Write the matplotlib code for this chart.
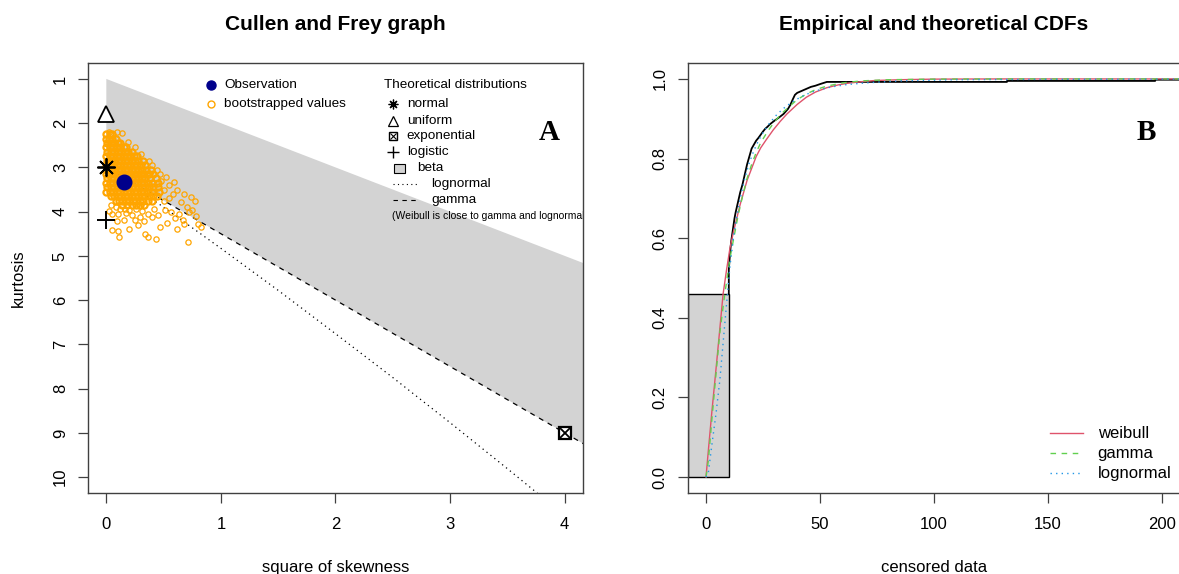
import matplotlib
matplotlib.use("Agg")
import matplotlib.pyplot as plt
from matplotlib.patches import Rectangle, Polygon

plt.rcParams['font.family'] = ['Liberation Sans', 'DejaVu Sans']

# ---------------- A : Cullen and Frey graph ----------------
obs_skew2 = 0.157
obs_kurt = 3.32

theo_skew2 = [0, 0, 4, 0]          # normal, uniform, exponential, logistic
theo_kurt = [3, 1.8, 9, 4.2]

beta_skew2 = [0, 5, 5, 0]
beta_kurt = [1, 6, 10.5, 3]
gamma_skew2 = [0, 5]
gamma_kurt = [3, 10.5]
lnorm_skew2 = [0, 0.5, 1, 1.5, 2, 2.5, 3, 3.5, 3.75, 4]
lnorm_kurt = [3, 3.90, 4.83, 5.78, 6.76, 7.75, 8.77, 9.81, 10.34, 10.87]

# bootstrapped values: dense core, one row per kurtosis level
boot_rows = [
    (2.25, [0.00, 0.03, 0.05]),
    (2.35, [0.00, 0.02, 0.05, 0.08]),
    (2.45, [0.01, 0.04, 0.07, 0.10, 0.12]),
    (2.55, [0.00, 0.03, 0.06, 0.09, 0.12, 0.15, 0.17]),
    (2.65, [0.01, 0.04, 0.07, 0.10, 0.13, 0.16, 0.19, 0.22]),
    (2.75, [0.00, 0.03, 0.06, 0.09, 0.12, 0.15, 0.18, 0.21, 0.24, 0.27]),
    (2.85, [0.01, 0.04, 0.07, 0.10, 0.13, 0.16, 0.19, 0.22, 0.25, 0.28, 0.32]),
    (2.95, [0.00, 0.03, 0.06, 0.09, 0.12, 0.15, 0.18, 0.21, 0.24, 0.27, 0.30, 0.34]),
    (3.05, [0.01, 0.04, 0.07, 0.10, 0.13, 0.16, 0.19, 0.22, 0.25, 0.28, 0.31, 0.35, 0.39]),
    (3.15, [0.00, 0.03, 0.06, 0.09, 0.12, 0.15, 0.18, 0.21, 0.24, 0.27, 0.30, 0.33, 0.37, 0.41]),
    (3.25, [0.01, 0.04, 0.07, 0.10, 0.13, 0.16, 0.19, 0.22, 0.25, 0.28, 0.31, 0.34, 0.38, 0.43]),
    (3.35, [0.00, 0.03, 0.06, 0.09, 0.12, 0.15, 0.18, 0.21, 0.24, 0.27, 0.30, 0.33, 0.36, 0.40, 0.45]),
    (3.45, [0.01, 0.04, 0.07, 0.10, 0.13, 0.16, 0.19, 0.22, 0.25, 0.28, 0.31, 0.34, 0.37, 0.41, 0.45]),
    (3.55, [0.00, 0.03, 0.06, 0.09, 0.12, 0.15, 0.18, 0.21, 0.24, 0.27, 0.30, 0.33, 0.36, 0.40, 0.46]),
    (3.65, [0.04, 0.07, 0.10, 0.13, 0.16, 0.19, 0.22, 0.25, 0.28, 0.31, 0.34, 0.37, 0.41, 0.44]),
    (3.75, [0.08, 0.11, 0.14, 0.17, 0.20, 0.23, 0.26, 0.29, 0.32, 0.36, 0.40]),
    (3.85, [0.14, 0.18, 0.22, 0.26, 0.29, 0.33]),
]
# scattered bootstrapped values around the core (skew^2, kurtosis)
boot_scatter = [
    (0.04, 3.86), (0.08, 3.90), (0.12, 3.93), (0.16, 3.95), (0.20, 3.97), (0.26, 3.93),
    (0.31, 3.99), (0.05, 4.05), (0.10, 4.06), (0.17, 4.02), (0.22, 4.08), (0.29, 4.12),
    (0.36, 4.05), (0.40, 4.12), (0.45, 4.08), (0.51, 3.97), (0.56, 4.01), (0.60, 4.15),
    (0.67, 4.20), (0.72, 4.00), (0.75, 3.97), (0.09, 4.21), (0.15, 4.19), (0.25, 4.20),
    (0.33, 4.22), (0.47, 4.35), (0.53, 4.25), (0.62, 4.40), (0.68, 4.28), (0.80, 4.28),
    (0.83, 4.35), (0.05, 4.42), (0.11, 4.57), (0.10, 4.44), (0.34, 4.50), (0.36, 4.58),
    (0.43, 4.62), (0.71, 4.69), (0.20, 4.40), (0.28, 4.30), (0.77, 3.75), (0.74, 3.68),
    (0.78, 4.10), (0.58, 3.60), (0.62, 3.50), (0.55, 3.40), (0.65, 3.78), (0.50, 3.50),
    (0.59, 3.33), (0.52, 3.22), (0.47, 3.15), (0.44, 3.05), (0.37, 2.85), (0.30, 2.70),
    (0.25, 2.55), (0.19, 2.42), (0.14, 2.23), (0.09, 2.20), (0.02, 2.20), (0.40, 2.95),
    (0.48, 3.30), (0.68, 3.60), (0.70, 3.90), (0.63, 4.05), (0.50, 3.75), (0.55, 3.70),
    (0.42, 3.95), (0.02, 3.98),
]

# ---------------- B : empirical and theoretical CDFs ----------------
cens_upper = 10       # left-censored interval (-inf, 10]
cens_prob = 0.46
ecdf_x = [10, 10, 10.5, 11, 11.5, 12, 12.5, 13, 14, 15, 16, 17, 18, 19, 20, 21, 22, 23,
          24, 25, 26, 27, 28, 30, 32, 34, 36, 37, 38, 39, 40, 42, 44, 46, 48, 50, 53,
          132, 132, 197, 197, 215]
ecdf_y = [0.46, 0.52, 0.56, 0.59, 0.61, 0.63, 0.65, 0.665, 0.69, 0.715, 0.735, 0.76,
          0.785, 0.805, 0.825, 0.835, 0.845, 0.852, 0.86, 0.868, 0.875, 0.88, 0.886,
          0.895, 0.903, 0.912, 0.925, 0.935, 0.948, 0.96, 0.965, 0.97, 0.975, 0.98,
          0.983, 0.987, 0.9925, 0.9925, 0.995, 0.995, 0.998, 0.998]
weib_x = [0, 1, 2.5, 4.7, 7.5, 9, 10.5, 12, 13.5, 15, 16.5, 18, 20, 22, 24, 26.5, 29.5,
          32.5, 35.5, 40, 44, 48, 53, 58, 62, 68, 74, 85, 100, 130, 215]
weib_y = [0, 0.065, 0.16, 0.29, 0.46, 0.52, 0.575, 0.615, 0.65, 0.685, 0.715, 0.745,
          0.775, 0.805, 0.827, 0.848, 0.872, 0.893, 0.912, 0.936, 0.954, 0.967, 0.978,
          0.985, 0.989, 0.993, 0.996, 0.998, 0.9995, 1.0, 1.0]
gam_x = [0, 1, 2.5, 4, 6, 8, 9.5, 11, 12.5, 14, 16, 18, 20, 22, 24, 27, 30, 33, 36, 40,
         44, 48, 53, 60, 68, 80, 100, 130, 215]
gam_y = [0, 0.04, 0.14, 0.235, 0.36, 0.45, 0.51, 0.565, 0.61, 0.655, 0.705, 0.75, 0.785,
         0.815, 0.84, 0.868, 0.892, 0.912, 0.928, 0.948, 0.962, 0.973, 0.982, 0.99,
         0.995, 0.998, 0.9995, 1.0, 1.0]
lnorm_x = [0, 1, 2.5, 4.4, 6.1, 7.9, 9.4, 10.5, 12, 13.5, 15, 17, 19, 21, 23, 25, 28, 31,
           34, 38, 42, 46, 50, 55, 62, 70, 85, 110, 150, 215]
lnorm_y = [0, 0.01, 0.078, 0.16, 0.245, 0.363, 0.46, 0.53, 0.6, 0.655, 0.7, 0.75, 0.79,
           0.82, 0.845, 0.865, 0.89, 0.91, 0.926, 0.943, 0.956, 0.966, 0.973, 0.98,
           0.986, 0.99, 0.995, 0.998, 0.999, 0.9995]

boxcol = '#404040'
dotted = (0, (1, 3))
dashed = (0, (4, 4))

fig = plt.figure(figsize=(11.79, 5.74), dpi=100)
ax1 = fig.add_axes([88 / 1179, 81 / 574, 495 / 1179, 430 / 574])
ax2 = fig.add_axes([688 / 1179, 81 / 574, 492 / 1179, 430 / 574])

for ax in (ax1, ax2):
    for s in ax.spines.values():
        s.set_color(boxcol)
        s.set_linewidth(1.0)
    ax.tick_params(direction='out', length=7.5, width=0.9, color=boxcol, labelsize=12)
    ax.tick_params(axis='x', pad=9.5)
    ax.tick_params(axis='y', pad=7)

# ---- panel A ----
ax1.add_patch(Polygon(list(zip(beta_skew2, beta_kurt)), closed=True,
                      facecolor='#D3D3D3', edgecolor='none', zorder=1))
ax1.plot(lnorm_skew2, lnorm_kurt, color='black', lw=0.9, linestyle=dotted, zorder=2)
ax1.plot(gamma_skew2, gamma_kurt, color='black', lw=0.9, linestyle=dashed, zorder=2)

core_x, core_k = [], []
for k, xs in boot_rows:
    for x in xs:
        core_x.append(x)
        core_k.append(k)
scat_x = [p[0] for p in boot_scatter]
scat_k = [p[1] for p in boot_scatter]
ax1.plot(core_x, core_k, linestyle='none', marker='o', ms=4.4, mfc='none', mec='orange',
         mew=1.6, zorder=3)
ax1.plot(scat_x, scat_k, linestyle='none', marker='o', ms=3.8, mfc='none', mec='orange',
         mew=0.9, zorder=3)
ax1.plot([obs_skew2], [obs_kurt], linestyle='none', marker='o', ms=10.5,
         color='#00008B', zorder=4)

ax1.plot(theo_skew2[0], theo_kurt[0], marker=(8, 2, 0), ms=13, mew=1.3, color='black', zorder=5)
ax1.plot(theo_skew2[1], theo_kurt[1], marker='^', ms=11, mfc='white', mec='black', mew=1.3, zorder=5)
ax1.plot(theo_skew2[2], theo_kurt[2], marker='s', ms=8.5, mfc='white', mec='black', mew=1.6, zorder=5)
ax1.plot(theo_skew2[2], theo_kurt[2], marker='x', ms=7, mec='black', mew=1.3, zorder=5)
ax1.plot(theo_skew2[3], theo_kurt[3], marker='+', ms=13, mec='black', mew=1.4, zorder=5)

ax1.set_xlim(-0.16, 4.16)
ax1.set_ylim(10.36, 0.64)
ax1.set_xticks([0, 1, 2, 3, 4])
ax1.set_yticks(range(1, 11))
for lab in ax1.get_yticklabels():
    lab.set_rotation(90)
    lab.set_va('center')
ax1.set_title('Cullen and Frey graph', fontsize=15, fontweight='bold', pad=24)
ax1.set_xlabel('square of skewness', fontsize=12)
ax1.set_ylabel('kurtosis', fontsize=12)
ax1.xaxis.set_label_coords(0.5, -0.155)
ax1.yaxis.set_label_coords(-0.125, 0.5)

# legend of panel A (drawn in axes fractions)
t = ax1.transAxes
lf = 9.7
ax1.plot(0.2485, 0.950, 'o', ms=6.5, color='#00008B', transform=t, clip_on=False)
ax1.text(0.2747, 0.950, 'Observation', fontsize=lf, va='center', transform=t)
ax1.plot(0.2485, 0.904, 'o', ms=5, mfc='none', mec='orange', mew=1, transform=t)
ax1.text(0.2747, 0.904, 'bootstrapped values', fontsize=lf, va='center', transform=t)
ax1.text(0.598, 0.950, 'Theoretical distributions', fontsize=lf, va='center', transform=t)
ax1.plot(0.617, 0.904, marker=(8, 2, 0), ms=7, mew=0.9, color='black', transform=t)
ax1.plot(0.617, 0.866, marker='^', ms=6.5, mfc='none', mec='black', mew=0.9, transform=t)
ax1.plot(0.617, 0.830, marker='s', ms=5.5, mfc='none', mec='black', mew=1.0, transform=t)
ax1.plot(0.617, 0.830, marker='x', ms=4.5, mec='black', mew=0.8, transform=t)
ax1.plot(0.617, 0.794, marker='+', ms=8, mec='black', mew=1.0, transform=t)
for y, name in zip([0.904, 0.866, 0.830, 0.794], ['normal', 'uniform', 'exponential', 'logistic']):
    ax1.text(0.644, y, name, fontsize=lf, va='center', transform=t)
ax1.add_patch(Rectangle((0.619, 0.745), 0.022, 0.021, facecolor='#D3D3D3',
                        edgecolor='black', lw=0.8, transform=t))
ax1.text(0.664, 0.755, 'beta', fontsize=lf, va='center', transform=t)
ax1.plot([0.617, 0.665], [0.718, 0.718], color='black', lw=0.8, linestyle=dotted, transform=t)
ax1.text(0.694, 0.718, 'lognormal', fontsize=lf, va='center', transform=t)
ax1.plot([0.617, 0.665], [0.681, 0.681], color='black', lw=0.8, linestyle=dashed, transform=t)
ax1.text(0.694, 0.681, 'gamma', fontsize=lf, va='center', transform=t)
ax1.text(0.6135, 0.645, '(Weibull is close to gamma and lognormal)', fontsize=7.5,
         va='center', transform=t, clip_on=True)
ax1.text(0.931, 0.821, 'A', fontsize=21, fontweight='bold', family='Liberation Serif',
         ha='center', va='baseline', transform=t)

# ---- panel B ----
ax2.set_xlim(-7.9, 207.9)
ax2.set_ylim(-0.04, 1.04)
x0 = ax2.get_xlim()[0]
ax2.add_patch(Rectangle((x0, 0), cens_upper - x0, cens_prob, facecolor='#D3D3D3',
                        edgecolor='black', lw=1.0, zorder=1))
ax2.plot(ecdf_x, ecdf_y, color='black', lw=1.3, zorder=3)
ax2.plot(weib_x, weib_y, color='#DF536B', lw=1.0, label='weibull', zorder=4)
ax2.plot(gam_x, gam_y, color='#61D04F', lw=1.0, linestyle=dashed, label='gamma', zorder=4)
ax2.plot(lnorm_x, lnorm_y, color='#2297E6', lw=1.0, linestyle=dotted, label='lognormal', zorder=4)
ax2.set_xticks([0, 50, 100, 150, 200])
ax2.set_yticks([0, 0.2, 0.4, 0.6, 0.8, 1.0])
ax2.set_yticklabels(['0.0', '0.2', '0.4', '0.6', '0.8', '1.0'], rotation=90, va='center')
ax2.set_title('Empirical and theoretical CDFs', fontsize=15, fontweight='bold', pad=24)
ax2.set_xlabel('censored data', fontsize=12)
ax2.xaxis.set_label_coords(0.5, -0.155)
ax2.legend(loc='lower left', bbox_to_anchor=(0.736, 0.027), frameon=False, fontsize=12,
           borderpad=0, borderaxespad=0, handlelength=2.0, handletextpad=0.85,
           labelspacing=0.3)
ax2.text(0.931, 0.821, 'B', fontsize=21, fontweight='bold', family='Liberation Serif',
         ha='center', va='baseline', transform=ax2.transAxes)

fig.savefig('out.png', dpi=100)
